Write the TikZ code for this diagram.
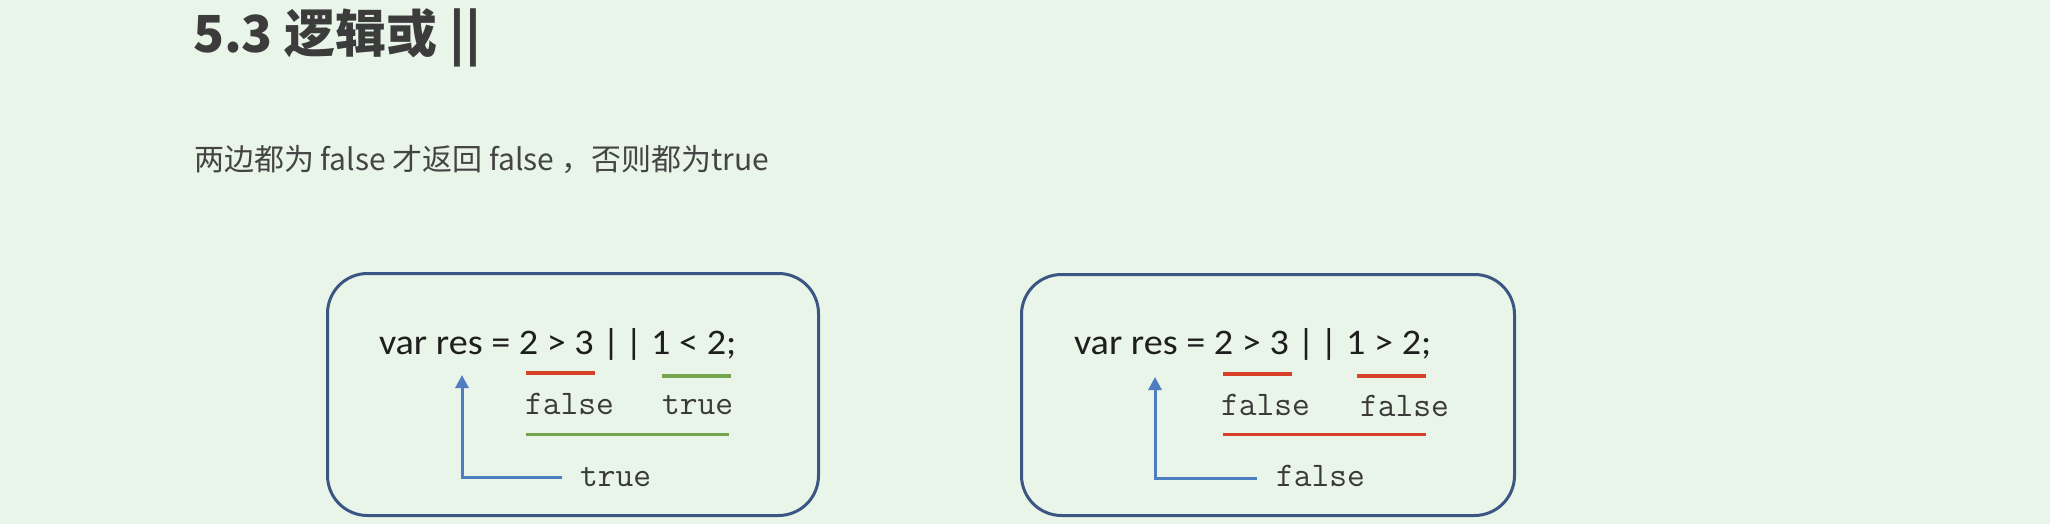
\documentclass[tikz,border=0pt]{standalone}
\usepackage{fontspec}
\usetikzlibrary{arrows.meta}
\newfontfamily\cjk{Noto Sans CJK SC}
\newfontfamily\codefont[FakeStretch=1.06]{Carlito}
\definecolor{bg}{HTML}{E9F5E9}
\definecolor{titlegray}{HTML}{3C3C3C}
\definecolor{subgray}{HTML}{444444}
\definecolor{codeblack}{HTML}{1E1E1E}
\definecolor{monogray}{HTML}{3A3A3A}
\definecolor{redline}{HTML}{D8402A}
\definecolor{greenline}{HTML}{76A34E}
\definecolor{bluearrow}{HTML}{4F7DC2}
\definecolor{boxborder}{HTML}{3B5683}
\begin{document}
\begin{tikzpicture}[x=1pt,y=-1pt,
  txt/.style={anchor=base west,inner sep=0pt,outer sep=0pt},
  titletxt/.style={txt,font=\cjk\bfseries\fontsize{51}{60}\selectfont,text=titlegray},
  subtxt/.style={txt,font=\cjk\fontsize{30}{35}\selectfont,text=subgray},
  codetxt/.style={txt,font=\codefont\fontsize{36}{42}\selectfont,text=codeblack},
  monotxt/.style={txt,font=\ttfamily\fontsize{34.5}{40}\selectfont,text=monogray},
  panel/.style={draw=boxborder,line width=3pt,rounded corners=40pt},
  shortline/.style={line width=4.5pt},
  longline/.style={line width=3pt},
  resarrow/.style={draw=bluearrow,line width=3pt,-{Triangle[width=13pt,length=13pt]}}
]
\fill[bg] (0,0) rectangle (2050,524);
\useasboundingbox (0,0) rectangle (2050,524);

% title and subtitle
\node[titletxt] (title) at (193,53) {5.3 逻辑或 ||};
\node[subtxt] (sub) at (194,170) {两边都为 false 才返回 false ，否则都为true};

% panel 1
\node[panel,minimum width=491pt,minimum height=242pt,anchor=north west] (box1) at (326,272) {};
\node[codetxt] (code1) at (379,354) {var res = 2 > 3 |\hspace{5pt}| 1 < 2;};
\draw[redline,shortline] (526,373) -- (595,373);
\draw[greenline,shortline] (662,376) -- (731,376);
\node[monotxt] (f1) at (525,414) {false};
\node[monotxt] (t1) at (662,414) {true};
\draw[greenline,longline] (526,434) -- (729,434);
\node[monotxt] (r1) at (580,486) {true};
\coordinate (a1s) at (562,477);
\coordinate (a1e) at (462,375);
\draw[resarrow] (a1s) -| (a1e);

% panel 2
\node[panel,minimum width=493pt,minimum height=241pt,anchor=north west] (box2) at (1020,273) {};
\node[codetxt] (code2) at (1074,354) {var res = 2 > 3 |\hspace{5pt}| 1 > 2;};
\draw[redline,shortline] (1223,374) -- (1292,374);
\draw[redline,shortline] (1357,376) -- (1426,376);
\node[monotxt] (f2) at (1221,415) {false};
\node[monotxt] (f3) at (1360,416) {false};
\draw[redline,longline] (1223,434) -- (1426,434);
\node[monotxt] (r2) at (1276,486) {false};
\coordinate (a2s) at (1257,478);
\coordinate (a2e) at (1155,377);
\draw[resarrow] (a2s) -| (a2e);
\end{tikzpicture}
\end{document}
